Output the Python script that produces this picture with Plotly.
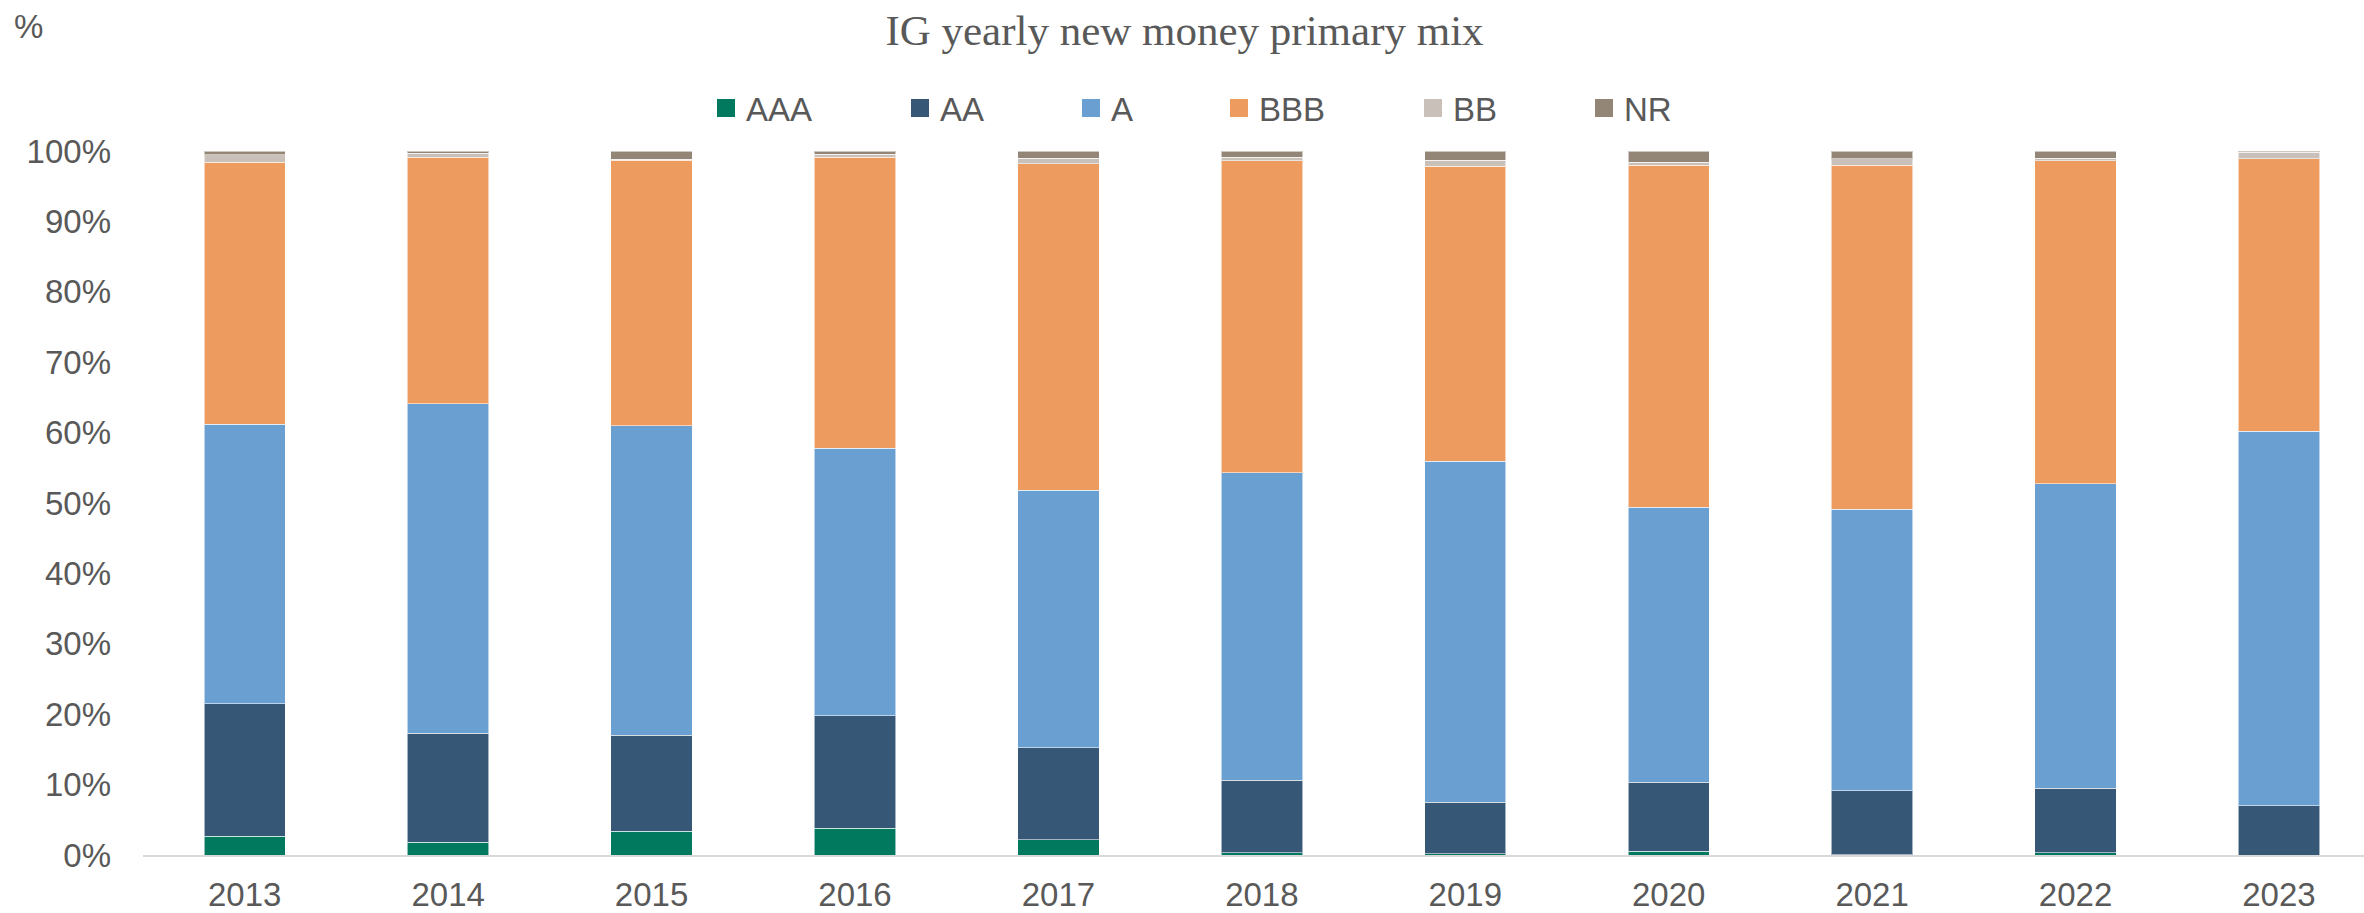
import plotly.graph_objects as go

# 评级分布数据（%）
years = ["2013", "2014", "2015", "2016", "2017", "2018", "2019", "2020", "2021", "2022", "2023"]
aaa = [2.65, 1.8, 3.4, 3.8, 2.2, 0.35, 0.15, 0.55, 0.05, 0.3, 0.0]
aa = [18.85, 15.5, 13.6, 16.0, 13.0, 10.25, 7.35, 9.75, 9.05, 9.2, 7.0]
a = [39.7, 46.8, 44.0, 38.0, 36.6, 43.7, 48.4, 39.1, 40.0, 43.2, 53.2]
bbb = [37.2, 35.0, 37.7, 41.3, 46.4, 44.3, 41.9, 48.6, 48.9, 45.9, 38.7]
bb = [1.1, 0.6, 0.15, 0.45, 0.8, 0.5, 0.9, 0.4, 0.9, 0.4, 0.9]
nr = [0.5, 0.3, 1.15, 0.45, 1.0, 0.9, 1.3, 1.6, 1.1, 1.0, 0.2]

series = [
    ("AAA", aaa, "#00795F"),
    ("AA", aa, "#375776"),
    ("A", a, "#6A9FD1"),
    ("BBB", bbb, "#EE9B60"),
    ("BB", bb, "#C9C0BA"),
    ("NR", nr, "#948676"),
]

# 图例标记左边缘的像素位置（参考图）
legend_px = [717, 911, 1082, 1230, 1424, 1595]

W, H = 2364, 913
L, R, T, B = 143, 0, 151, 58
plot_w = W - L - R
plot_h = H - T - B

grey = "#595959"
sans = "Liberation Sans, Arial, sans-serif"
serif = "Liberation Serif, Times New Roman, serif"

fig = go.Figure()

for name, vals, color in series:
    fig.add_trace(go.Bar(
        x=years, y=vals, name=name,
        marker=dict(color=color, line=dict(color="rgba(255,255,255,0.55)", width=1)),
        showlegend=False,
    ))

legend_layouts = {}
for i, (name, vals, color) in enumerate(series):
    key = "legend" if i == 0 else f"legend{i + 1}"
    fig.add_trace(go.Scatter(
        x=[None], y=[None], name=name, mode="markers",
        marker=dict(symbol="square", size=16, color=color, line=dict(color=color, width=2)),
        legend=key, showlegend=True, hoverinfo="skip",
    ))
    legend_layouts[key] = dict(
        x=(legend_px[i] + 9 - 20 - L) / plot_w,
        y=(855 - 108) / plot_h,
        xanchor="left", yanchor="middle",
        orientation="h",
        bgcolor="rgba(0,0,0,0)",
        font=dict(family=sans, size=33, color=grey),
        itemwidth=30,
    )

fig.update_layout(
    barmode="stack",
    bargap=0.6,
    width=W, height=H,
    autosize=False,
    margin=dict(l=L, r=R, t=T, b=B, autoexpand=False),
    paper_bgcolor="#FFFFFF",
    plot_bgcolor="#FFFFFF",
    font=dict(family=sans, size=33, color=grey),
    title=dict(
        text="IG yearly new money primary mix",
        x=1184.5 / W, xref="container", xanchor="center",
        y=1 - 30 / H, yref="container", yanchor="middle",
        font=dict(family=serif, size=43, color=grey),
    ),
    xaxis=dict(
        type="category",
        range=[-0.5, 10.418],
        showgrid=False, zeroline=False,
        showline=True, linecolor="#D9D9D9", linewidth=2,
        ticks="", ticklabelstandoff=9,
        tickfont=dict(family=sans, size=33, color=grey),
    ),
    yaxis=dict(
        range=[0, 100], dtick=10, ticksuffix="%",
        showgrid=False, zeroline=False, showline=False,
        ticks="", ticklabelstandoff=31,
        tickfont=dict(family=sans, size=33, color=grey),
    ),
    annotations=[dict(
        text="%", xref="paper", yref="paper",
        x=(28 - L) / plot_w, y=(855 - 26) / plot_h,
        xanchor="center", yanchor="middle", showarrow=False,
        font=dict(family=sans, size=33, color=grey),
    )],
    **legend_layouts,
)

# 去掉页面默认的 body 边距，让图表贴齐窗口
fig.write_html("out.html", config={"displayModeBar": False},
               post_script="document.body.style.margin='0px';")
